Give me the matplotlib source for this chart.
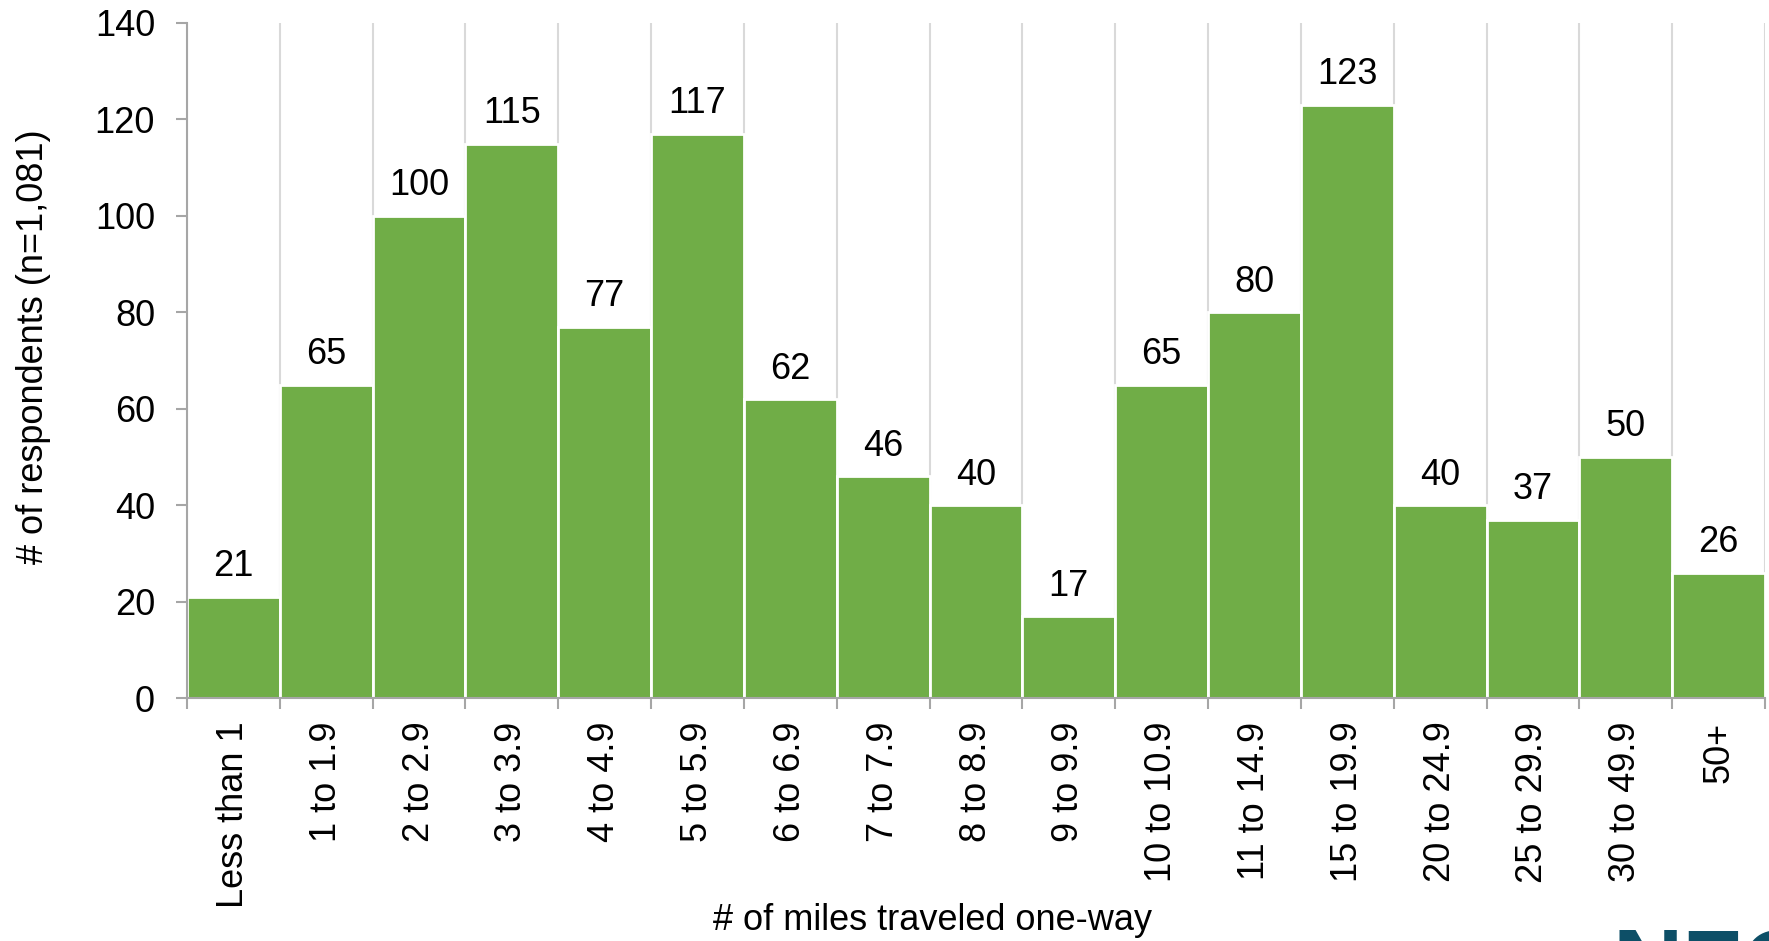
import numpy as np
import matplotlib
matplotlib.use("Agg")
import matplotlib.pyplot as plt

# Данные
categories = ["Less than 1", "1 to 1.9", "2 to 2.9", "3 to 3.9", "4 to 4.9", "5 to 5.9",
              "6 to 6.9", "7 to 7.9", "8 to 8.9", "9 to 9.9", "10 to 10.9", "11 to 14.9",
              "15 to 19.9", "20 to 24.9", "25 to 29.9", "30 to 49.9", "50+"]
counts = [21, 65, 100, 115, 77, 117, 62, 46, 40, 17, 65, 80, 123, 40, 37, 50, 26]

plt.rcParams['font.family'] = ['Liberation Sans', 'DejaVu Sans']

fig = plt.figure(figsize=(17.69, 9.41), dpi=100)
ax = fig.add_axes([187 / 1769, 1 - 698 / 941, (1765 - 187) / 1769, (698 - 23) / 941])

x = np.arange(len(categories))
bars = ax.bar(x, counts, width=1.0, color='#70AD47', edgecolor='white', linewidth=2, zorder=2)

# Подписи значений
for xi, v in zip(x, counts):
    ax.annotate(str(v), (xi, v), xytext=(0, 9), textcoords='offset points',
                ha='center', va='bottom', fontsize=26)

ax.set_xlim(-0.5, len(categories) - 0.5)
ax.set_ylim(0, 140)
ax.set_yticks(np.arange(0, 141, 20))

# Вертикальная сетка по границам категорий
bounds = np.arange(len(categories) + 1) - 0.5
ax.set_xticks(x)
ax.set_xticklabels(categories, rotation=90, fontsize=26)
ax.set_xticks(bounds, minor=True)
ax.tick_params(axis='x', which='major', length=0, pad=17)
ax.tick_params(axis='x', which='minor', length=8, color='#a6a6a6', width=1.5)
ax.tick_params(axis='y', length=8, color='#a6a6a6', width=1.5, pad=15, labelsize=26)
ax.grid(axis='x', which='minor', color='#d9d9d9', linewidth=1.5, zorder=0)

for s in ['top', 'right']:
    ax.spines[s].set_visible(False)
for s in ['left', 'bottom']:
    ax.spines[s].set_color('#a6a6a6')
    ax.spines[s].set_linewidth(1.5)

ax.set_ylabel("# of respondents (n=1,081)", fontsize=26)
ax.yaxis.set_label_coords(-0.086, 0.52)
fig.text(0.527, 0.022, "# of miles traveled one-way", ha='center', va='center', fontsize=26)

# Обрезанный логотип в углу
fig.text(1612 / 1769, 1 - 927 / 941, "NFO", ha='left', va='top', fontsize=70,
         fontweight='bold', color='#0d4f67')

fig.savefig("out.png", dpi=100)
